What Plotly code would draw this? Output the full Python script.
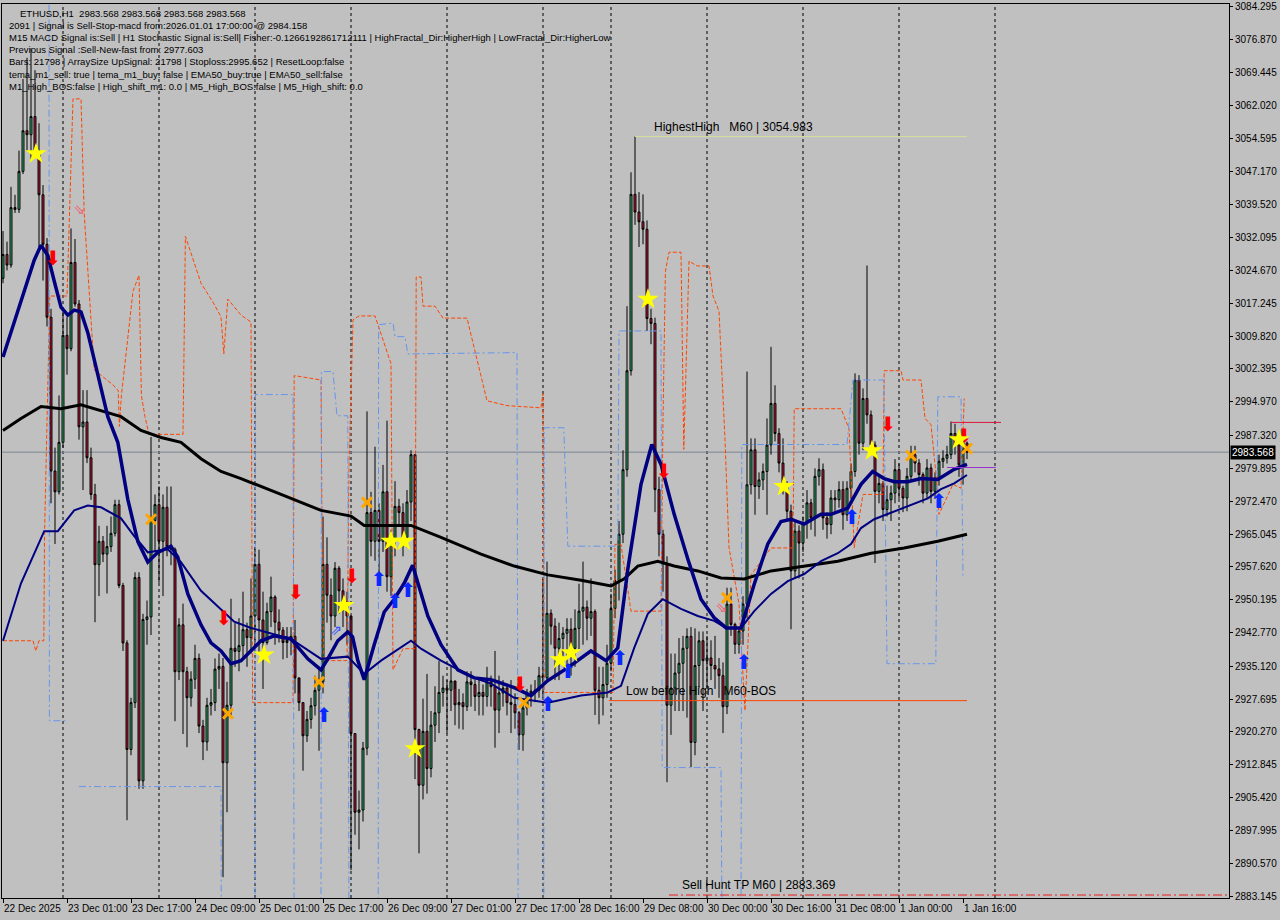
import plotly.graph_objects as go

# ETHUSD H1 candles, bar 0 = 22 Dec 09:00 (open of bar 0, then close/high/low per bar)
first_open = 3022.9
close = [
    3028.3, 3025.9, 3038.9, 3038.5, 3047.1, 3056.3, 3055.4, 3059.5, 3051.8, 3041.8,
    3030.6, 3014.1, 2979.3, 2974.6, 2985.8, 3010.0, 3007.0, 3026.5, 3017.1, 2989.3,
    2990.4, 2982.3, 2974.0, 2958.1, 2963.4, 2960.5, 2962.2, 2965.2, 2971.7, 2953.4,
    2940.4, 2916.3, 2926.9, 2955.2, 2909.2, 2945.7, 2946.3, 2968.1, 2971.7, 2963.4,
    2971.1, 2962.2, 2961.6, 2933.9, 2944.5, 2933.9, 2928.0, 2932.2, 2936.9, 2921.6,
    2918.0, 2926.3, 2926.9, 2934.5, 2935.1, 2913.3, 2926.3, 2939.2, 2938.5, 2939.8,
    2943.4, 2941.6, 2946.5, 2958.2, 2945.6, 2940.5, 2947.5, 2950.8, 2945.1, 2943.3,
    2940.5, 2941.0, 2941.9, 2932.5, 2926.9, 2919.4, 2923.1, 2926.2, 2929.7, 2931.6,
    2958.2, 2951.2, 2946.5, 2957.3, 2952.2, 2949.8, 2946.5, 2919.9, 2902.1, 2902.6,
    2916.6, 2969.9, 2963.4, 2970.4, 2963.4, 2974.6, 2955.4, 2963.4, 2971.3, 2969.9,
    2964.3, 2972.3, 2983.0, 2920.8, 2908.2, 2920.4, 2912.0, 2921.8, 2924.6, 2929.2,
    2930.2, 2929.7, 2931.8, 2926.4, 2926.9, 2926.0, 2931.6, 2931.0, 2928.3, 2929.2,
    2928.3, 2931.6, 2930.5, 2925.2, 2929.1, 2930.2, 2926.9, 2926.5, 2924.6, 2919.6,
    2925.7, 2929.1, 2929.5, 2929.7, 2933.0, 2932.5, 2947.1, 2944.2, 2939.2, 2941.4,
    2942.6, 2943.5, 2939.2, 2943.7, 2947.6, 2948.5, 2946.0, 2947.5, 2929.7, 2928.0,
    2931.0, 2935.8, 2948.2, 2954.5, 2965.0, 2979.6, 3002.0, 3041.9, 3037.9, 3035.7,
    3034.0, 3013.8, 3012.7, 2975.1, 2965.0, 2958.3, 2926.3, 2930.2, 2933.6, 2935.8,
    2939.2, 2941.9, 2917.9, 2935.3, 2940.9, 2936.4, 2937.0, 2935.3, 2934.5, 2933.0,
    2926.0, 2949.2, 2944.6, 2940.1, 2943.1, 2949.2, 2976.2, 2984.1, 2975.8, 2977.3,
    2979.2, 2985.2, 2994.6, 2987.8, 2981.1, 2975.8, 2970.2, 2956.7, 2965.7, 2963.0,
    2967.6, 2972.1, 2968.7, 2978.1, 2979.6, 2968.7, 2967.2, 2973.2, 2972.8, 2975.1,
    2969.4, 2975.4, 2979.2, 2999.9, 2985.6, 2995.7, 2992.0, 2985.2, 2974.7, 2976.5,
    2970.6, 2972.8, 2974.3, 2979.6, 2975.4, 2973.2, 2978.1, 2983.0, 2981.1, 2978.5,
    2974.3, 2980.0, 2974.7, 2977.7, 2981.5, 2982.2, 2983.0, 2987.8, 2985.2, 2980.7,
    2985.6, 2983.568,
]
high = [
    3033.6, 3031.2, 3043.6, 3041.8, 3051.8, 3068.0, 3072.8, 3075.0, 3070.0, 3058.0,
    3044.0, 3032.0, 3016.0, 2984.6, 2996.4, 3015.3, 3014.1, 3034.2, 3031.8, 3018.0,
    2997.6, 2997.6, 2984.6, 2976.4, 2966.9, 2964.6, 2966.9, 2969.0, 2972.8, 2972.8,
    2954.0, 2941.0, 2928.0, 2956.4, 2956.4, 2947.0, 2950.0, 2987.0, 2974.0, 2975.8,
    2974.0, 2975.8, 2975.8, 2962.0, 2946.0, 2949.3, 2935.0, 2934.0, 2940.0, 2938.0,
    2923.0, 2928.0, 2930.0, 2936.9, 2938.0, 2937.0, 2931.6, 2950.4, 2945.0, 2946.0,
    2952.0, 2945.0, 2955.0, 2962.0, 2961.5, 2952.0, 2949.5, 2955.4, 2951.2, 2948.0,
    2944.0, 2944.0, 2944.0, 2945.6, 2929.0, 2927.0, 2925.0, 2928.0, 2933.0, 2935.0,
    2969.0, 2964.3, 2955.0, 2958.7, 2957.8, 2955.0, 2952.0, 2945.6, 2920.0, 2907.0,
    2918.0, 2992.8, 2974.6, 2984.8, 2972.0, 2980.7, 2990.7, 2966.0, 2977.0, 2973.0,
    2972.0, 2975.0, 2984.0, 2983.0, 2921.0, 2927.8, 2933.4, 2925.0, 2930.6, 2936.3,
    2933.0, 2932.0, 2935.0, 2930.0, 2930.0, 2929.0, 2934.0, 2934.0, 2932.0, 2932.0,
    2931.0, 2935.0, 2933.0, 2938.6, 2933.0, 2932.0, 2931.0, 2932.0, 2929.0, 2925.0,
    2927.0, 2930.0, 2931.0, 2932.0, 2935.0, 2954.9, 2958.8, 2948.0, 2946.0, 2945.0,
    2944.0, 2946.0, 2946.0, 2948.0, 2953.8, 2958.8, 2950.0, 2955.0, 2948.0, 2935.0,
    2935.0, 2940.0, 2951.5, 2957.0, 2968.0, 2984.0, 3016.6, 3046.9, 3054.983, 3042.4,
    3041.9, 3036.0, 3016.0, 3014.0, 2978.0, 2966.0, 2960.0, 2938.0, 2938.0, 2941.5,
    2942.0, 2943.7, 2944.0, 2943.7, 2943.0, 2943.0, 2942.0, 2941.0, 2942.0, 2937.0,
    2936.0, 2952.9, 2952.9, 2945.0, 2944.0, 2951.0, 3001.8, 2986.7, 2986.7, 2979.0,
    2981.0, 2991.2, 3007.4, 2998.7, 2989.0, 2986.7, 2977.0, 2971.7, 2968.0, 2967.0,
    2969.0, 2975.0, 2973.0, 2979.9, 2982.2, 2981.0, 2970.0, 2975.0, 2975.0, 2977.0,
    2977.0, 2977.0, 2981.0, 3001.4, 3001.0, 2998.0, 3025.8, 2993.0, 2986.0, 2978.0,
    2977.0, 2976.0, 2976.0, 2982.0, 2981.0, 2976.0, 2980.0, 2985.0, 2985.0, 2982.0,
    2979.0, 2982.0, 2981.0, 2979.0, 2983.0, 2984.0, 2985.0, 2990.5, 2990.0, 2987.0,
    2988.0, 2986.0,
]
low = [
    3021.8, 3024.7, 3025.3, 3037.7, 3037.7, 3046.5, 3051.8, 3050.0, 3050.7, 3030.0,
    3022.4, 3012.0, 2972.0, 2962.8, 2974.0, 2984.6, 3001.1, 3006.4, 3016.5, 2986.4,
    2975.0, 2981.1, 2972.8, 2945.1, 2951.0, 2958.7, 2951.6, 2961.0, 2964.5, 2952.8,
    2938.6, 2900.3, 2915.0, 2925.7, 2907.4, 2907.4, 2940.0, 2942.2, 2961.0, 2954.0,
    2951.0, 2960.0, 2958.0, 2922.7, 2932.0, 2919.8, 2916.8, 2926.0, 2930.0, 2920.0,
    2913.9, 2916.0, 2924.0, 2925.0, 2930.0, 2887.4, 2902.1, 2924.0, 2935.0, 2934.0,
    2937.0, 2935.0, 2938.0, 2940.0, 2938.0, 2930.0, 2940.0, 2944.0, 2940.0, 2940.5,
    2936.7, 2937.0, 2937.6, 2929.0, 2925.0, 2911.5, 2918.0, 2921.0, 2924.0, 2916.0,
    2929.0, 2945.0, 2941.0, 2944.0, 2947.0, 2944.0, 2940.0, 2889.0, 2897.0, 2893.7,
    2900.0, 2915.0, 2960.0, 2959.0, 2955.0, 2961.0, 2952.0, 2951.0, 2960.0, 2967.0,
    2960.0, 2962.0, 2968.0, 2909.6, 2892.8, 2905.0, 2906.3, 2910.0, 2918.0, 2920.0,
    2926.0, 2919.9, 2925.0, 2921.8, 2921.0, 2920.8, 2925.0, 2926.0, 2925.0, 2924.0,
    2924.0, 2926.0, 2926.0, 2916.7, 2920.0, 2926.0, 2924.0, 2920.0, 2921.0, 2916.2,
    2916.0, 2924.0, 2926.0, 2927.0, 2928.0, 2928.0, 2932.0, 2940.0, 2932.0, 2932.0,
    2937.0, 2935.0, 2933.0, 2935.0, 2939.0, 2940.0, 2941.0, 2942.0, 2924.1, 2922.0,
    2924.0, 2928.0, 2934.0, 2946.0, 2950.0, 2963.0, 2978.0, 3000.9, 3035.0, 3030.0,
    3030.6, 3011.0, 3008.0, 2970.0, 2960.0, 2952.0, 2908.9, 2919.6, 2925.0, 2925.0,
    2925.0, 2923.5, 2912.3, 2915.0, 2930.2, 2925.0, 2930.0, 2932.0, 2930.0, 2928.0,
    2920.0, 2924.3, 2942.0, 2937.9, 2938.0, 2940.0, 2946.0, 2974.0, 2969.4, 2973.0,
    2975.0, 2969.4, 2983.0, 2986.0, 2979.0, 2974.0, 2968.0, 2943.5, 2955.0, 2955.0,
    2961.0, 2964.0, 2966.0, 2964.5, 2976.0, 2966.0, 2964.0, 2965.0, 2970.0, 2971.0,
    2966.0, 2968.0, 2973.0, 2978.0, 2983.0, 2984.0, 2990.0, 2983.0, 2958.5, 2972.0,
    2968.0, 2969.0, 2968.0, 2972.0, 2973.0, 2970.0, 2970.2, 2977.0, 2979.0, 2976.0,
    2972.0, 2973.0, 2972.0, 2973.0, 2976.0, 2980.0, 2981.0, 2982.0, 2983.0, 2978.0,
    2976.2, 2982.0,
]
bars = list(range(len(close)))
opens = [first_open] + close[:-1]

# moving averages (bar index, price)
ema_fast_x = [0, 4.5, 7.8, 9.5, 11.2, 12.8, 14.5, 16.2, 17.8, 19.5, 21.2, 23.7, 26.2, 28.7, 31.2,
              33.7, 36.2, 38.7, 42, 43.7, 46.2, 49.5, 52, 54.5, 57, 59.5, 64.5, 67.8, 72, 76.2,
              79.5, 81.2, 83.7, 86.2, 87.4, 88.7, 90.3, 92.8, 95.3, 97.8, 100.3, 102.4, 103.7,
              106.2, 109.5, 113.7, 117.8, 122, 127.8, 132, 136.2, 141.2, 147, 150.8, 153.7,
              156.2, 159.5, 162.2, 164.5, 167.8, 171.2, 174.5, 177.8, 180.8, 184.5, 187.8,
              191.2, 194.5, 197, 200.3, 204.5, 207, 211.2, 214.5, 217.4, 220.3, 222.8, 226.2,
              229.5, 233.7, 237.8, 241]
ema_fast_y = [3005.1, 3017.5, 3027.0, 3030.4, 3028.1, 3022.3, 3016.4, 3014.6, 3015.7, 3015.3,
              3010.6, 3001.1, 2991.6, 2985.8, 2972.9, 2963.4, 2958.7, 2960.9, 2962.3, 2959.8,
              2951.5, 2944.5, 2940.4, 2938.6, 2935.7, 2936.4, 2940.9, 2942.0, 2941.3, 2936.8,
              2934.3, 2936.8, 2940.9, 2942.9, 2941.8, 2936.4, 2932.1, 2940.0, 2947.4, 2950.3,
              2953.9, 2958.0, 2953.9, 2946.5, 2940.0, 2934.3, 2932.5, 2932.1, 2930.3, 2928.5,
              2931.9, 2934.8, 2938.6, 2936.4, 2939.3, 2957.1, 2976.3, 2985.3, 2980.8, 2969.5,
              2959.4, 2950.3, 2946.1, 2943.8, 2943.8, 2953.7, 2962.8, 2967.9, 2968.4, 2967.3,
              2969.5, 2969.5, 2970.9, 2976.3, 2979.2, 2977.6, 2976.9, 2976.9, 2977.6, 2977.4,
              2979.7, 2980.8]
ema_slow_x = [0, 4.5, 10.3, 13.7, 17.8, 21.2, 24.5, 29.5, 32.8, 36.2, 41.2, 44.5, 49.5, 54.5,
              57.8, 62, 72, 79.5, 86.2, 90.3, 94.5, 102, 104.5, 109.5, 117.8, 122, 127.8, 136.2,
              144.5, 151.2, 154.5, 157.8, 161.2, 164.9, 169.5, 173.7, 177.8, 180.8, 184.5,
              187.8, 192, 196.2, 200.3, 204.5, 208.7, 212, 214.5, 217.8, 222.8, 226.2, 231.2,
              234.5, 237.8, 241]
ema_slow_y = [2940.9, 2953.9, 2965.7, 2965.7, 2970.4, 2971.5, 2971.1, 2968.6, 2964.6, 2960.9,
              2961.6, 2958.7, 2952.2, 2948.1, 2945.2, 2943.8, 2941.3, 2936.8, 2937.3, 2933.4,
              2936.4, 2940.9, 2939.1, 2936.4, 2932.5, 2931.2, 2928.0, 2926.9, 2928.5, 2929.2,
              2930.7, 2939.3, 2947.0, 2950.3, 2948.1, 2946.5, 2945.4, 2943.8, 2943.8, 2947.6,
              2951.5, 2954.4, 2956.0, 2958.9, 2960.7, 2962.8, 2966.4, 2968.4, 2970.2, 2971.3,
              2973.1, 2975.2, 2976.5, 2978.4]
ma200_x = [0, 4.5, 9.5, 14.5, 19.5, 24.5, 29.5, 34.5, 39.5, 44.5, 49.5, 54.5, 59.5, 69.5, 79.5,
           87, 90.3, 102, 109.5, 119.5, 127.8, 136.2, 144.5, 152, 155.3, 158.7, 163.7, 167.8,
           173.7, 179.5, 185.3, 192, 200.3, 208.7, 217, 225.3, 233.7, 241]
ma200_y = [2988.5, 2991.2, 2993.9, 2993.4, 2994.3, 2993.0, 2991.6, 2988.5, 2986.9, 2985.8,
           2982.1, 2979.2, 2977.6, 2974.0, 2970.4, 2969.1, 2967.0, 2967.0, 2964.3, 2960.5,
           2957.8, 2955.8, 2954.6, 2953.3, 2954.9, 2957.8, 2958.9, 2957.8, 2956.7, 2955.1,
           2954.9, 2956.7, 2957.8, 2958.9, 2960.7, 2961.9, 2963.4, 2965.0]

# upper (orange) and lower (blue) bands
upper_x = [0, 7.5, 8.2, 9, 10.2, 10.4, 11.7, 16, 17.5, 19.5, 20.3, 22.8, 27.5, 28.8, 29.1, 29.6,
           32.5, 34, 34.6, 35.5, 36.5, 45, 45.6, 49.5, 52.5, 54.5, 55.2, 56.2, 59.5, 62, 62.4,
           72.5, 72.8, 79.5, 79.8, 80.2, 86, 86.5, 87.5, 89, 93, 97, 97.5, 100, 103, 103.3,
           104.5, 105, 108, 110, 116, 121, 126, 134.5, 135, 135.3, 152.5, 153, 154.5, 157,
           164.5, 165, 165.6, 166.5, 169.5, 170.2, 171.5, 173.5, 176.5, 177.5, 179, 180.5,
           181.5, 184, 185.5, 187, 192, 197.5, 197.8, 209.5, 211.5, 212.8, 215, 220, 220.3,
           224.5, 225, 229.5, 230.5, 232, 233.5, 234, 237.5, 239.5, 240.3]
upper_y = [2940.9, 2940.9, 2938.6, 2940.9, 2940.9, 2965.7, 3018.9, 3018.9, 3063.5, 3063.5,
           3037.6, 3002.2, 2998.8, 2997.5, 2989.4, 2996.4, 3020.0, 3023.6, 2996.4, 2991.6,
           2987.6, 2987.6, 3032.4, 3021.8, 3017.5, 3014.2, 3005.8, 3018.2, 3014.6, 3013.0,
           2926.9, 2926.9, 3000.9, 2999.9, 2960.5, 2936.4, 2936.4, 2980.1, 3013.5, 3014.4,
           3014.4, 3003.6, 2934.3, 2939.1, 2939.1, 3023.2, 3023.2, 3016.6, 3016.6, 3013.9,
           3013.9, 2995.2, 2994.1, 2993.6, 2996.8, 2929.2, 2929.2, 2962.7, 2962.7, 2947.6,
           2947.6, 2990.9, 3024.5, 3028.8, 3028.8, 2984.2, 3026.8, 3025.7, 3025.7, 3018.9,
           3015.5, 2986.4, 2962.0, 2949.2, 2925.1, 2955.8, 2961.9, 2961.9, 2993.4, 2993.4,
           2988.9, 2961.9, 2974.0, 2974.0, 3002.0, 3002.0, 2999.9, 2999.9, 2991.2, 2989.8,
           2976.3, 2969.5, 2976.3, 2975.4, 2995.7]
lower_x = [11.5, 11.6, 16, None, 19, 54.5, 54.6, None, 63, 63.1, 72.5, 72.8, None, 79.5, 79.6,
           82.5, 83.5, 86.2, 86.5, None, 93.8, 93.9, 97.5, 98, 100.5, 101.2, 128.5, 128.8, None,
           135.2, 135.3, 140.2, 141.2, 153.7, 154, 164.5, 164.8, 179.5, 179.8, None, 184.5,
           184.7, 211, 212.5, 220.2, 221, 233.2, 233.7, 239.5, 240]
lower_y = [3095, 2922.8, 2922.8, None, 2907.9, 2907.9, 2870, None, 2870, 2996.6, 2996.6, 2870,
           None, 2870, 3001.8, 3001.8, 2991.8, 2991.8, 2870, None, 2870, 3012.4, 3012.8, 3009.7,
           3009.7, 3005.8, 3006.1, 2870, None, 2870, 2989.1, 2989.1, 2962.3, 2962.3, 3011.0,
           3011.0, 2912.2, 2912.2, 2870, None, 2870, 2985.3, 2985.3, 2999.9, 2999.9, 2935.7,
           2935.7, 2996.1, 2996.1, 2955.1]

# signal markers (bar index, price)
star_x = [8.25, 65.25, 85.25, 97, 100.25, 103, 139.25, 142, 161.25, 195.25, 217.25, 239]
star_y = [3051.1, 2937.7, 2948.9, 2963.4, 2963.4, 2916.5, 2936.6, 2938.2, 3018.2, 2975.8,
          2983.9, 2986.4]
cross_x = [37, 56.25, 79, 91, 130.25, 181, 227, 241]
cross_y = [2968.4, 2924.4, 2931.6, 2972.2, 2926.9, 2950.6, 2982.8, 2984.4]
sell_x = [12.5, 55.25, 73.25, 87.25, 129.25, 165.25, 221.25, 240.25]
sell_y = [3027.0, 2945.6, 2951.5, 2955.1, 2930.7, 2978.8, 2989.4, 2986.7]
buy_x = [80.25, 94, 98, 101.25, 136.25, 141.25, 154.25, 185.25, 212.25, 234]
buy_y = [2923.7, 2954.4, 2949.4, 2951.9, 2926.2, 2933.7, 2936.6, 2935.7, 2968.4, 2972.0]

# levels
current_price = 2983.568
highest_high = 3054.983
low_before_high = 2927.35
sell_hunt_tp = 2883.369
red_level = 2990.3
purple_level = 2980.1

price_ticks = [3084.295, 3076.870, 3069.445, 3062.020, 3054.595, 3047.170, 3039.520, 3032.095,
               3024.670, 3017.245, 3009.820, 3002.395, 2994.970, 2987.320, 2979.895, 2972.470,
               2965.045, 2957.620, 2950.195, 2942.770, 2935.120, 2927.695, 2920.270, 2912.845,
               2905.420, 2897.995, 2890.570, 2883.145]
time_ticks = [0, 16, 32, 48, 64, 80, 96, 112, 128, 144, 160, 176, 192, 208, 224, 240]
time_labels = ["22 Dec 2025", "23 Dec 01:00", "23 Dec 17:00", "24 Dec 09:00", "25 Dec 01:00",
               "25 Dec 17:00", "26 Dec 09:00", "27 Dec 01:00", "27 Dec 17:00", "28 Dec 16:00",
               "29 Dec 08:00", "30 Dec 00:00", "30 Dec 16:00", "31 Dec 08:00", "1 Jan 00:00",
               "1 Jan 16:00"]
day_breaks = [15, 39, 63, 87, 111, 135, 152, 176, 200, 224, 248]

info_lines = [
    "ETHUSD,H1  2983.568 2983.568 2983.568 2983.568",
    "2091 | Signal is Sell-Stop-macd from:2026.01.01 17:00:00 @ 2984.158",
    "M15 MACD Signal is:Sell | H1 Stochastic Signal is:Sell| Fisher:-0.1266192861712111 | HighFractal_Dir:HigherHigh | LowFractal_Dir:HigherLow",
    "Previous Signal :Sell-New-fast from: 2977.603",
    "Bars: 21798 | ArraySize UpSignal: 21798 | Stoploss:2995.652 | ResetLoop:false",
    "tema_m1_sell: true | tema_m1_buy: false | EMA50_buy:true | EMA50_sell:false",
    "M1_High_BOS:false | High_shift_m1: 0.0 | M5_High_BOS:false | M5_High_shift: 0.0",
]

FONT = "Liberation Sans"
BG = "#C0C0C0"
x_end = 306.5

fig = go.Figure()

for b in day_breaks:
    fig.add_vline(x=b, line=dict(color="black", width=1, dash="3px,3px"), layer="below")

fig.add_hline(y=current_price, line=dict(color="#7a8494", width=1), layer="below")

fig.add_trace(go.Scatter(x=upper_x, y=upper_y, mode="lines",
                         line=dict(color="#FF4500", width=1, dash="4px,2px")))
fig.add_trace(go.Scatter(x=lower_x, y=lower_y, mode="lines", connectgaps=False,
                         line=dict(color="#6495ED", width=1, dash="7px,3px,2px,3px")))

fig.add_trace(go.Candlestick(
    x=bars, open=opens, high=high, low=low, close=close,
    increasing=dict(line=dict(color="black", width=1), fillcolor="#3CB371"),
    decreasing=dict(line=dict(color="black", width=1), fillcolor="#C41E3A"),
    whiskerwidth=0,
))

fig.add_trace(go.Scatter(x=ma200_x, y=ma200_y, mode="lines", line=dict(color="black", width=3)))
fig.add_trace(go.Scatter(x=ema_slow_x, y=ema_slow_y, mode="lines", line=dict(color="#000080", width=2)))
fig.add_trace(go.Scatter(x=ema_fast_x, y=ema_fast_y, mode="lines", line=dict(color="#000080", width=3.5)))

# level lines
fig.add_trace(go.Scatter(x=[158, 241], y=[highest_high] * 2, mode="lines",
                         line=dict(color="#d6dc9a", width=1)))
fig.add_trace(go.Scatter(x=[151.5, 241], y=[low_before_high] * 2, mode="lines",
                         line=dict(color="#FF4500", width=1)))
fig.add_trace(go.Scatter(x=[166.5, x_end], y=[sell_hunt_tp] * 2, mode="lines",
                         line=dict(color="#E8201E", width=1, dash="9px,3px,2px,3px")))
fig.add_trace(go.Scatter(x=[237, 249.5], y=[red_level] * 2, mode="lines",
                         line=dict(color="#DC143C", width=1)))
fig.add_trace(go.Scatter(x=[236, 248.2], y=[purple_level] * 2, mode="lines",
                         line=dict(color="#9932CC", width=1)))

# markers
fig.add_trace(go.Scatter(x=sell_x, y=sell_y, mode="text", text=["⬇"] * len(sell_x),
                         textfont=dict(color="#FF0000", size=20, family="DejaVu Sans")))
fig.add_trace(go.Scatter(x=buy_x, y=buy_y, mode="text", text=["⬆"] * len(buy_x),
                         textfont=dict(color="#0A28FF", size=20, family="DejaVu Sans")))
fig.add_trace(go.Scatter(x=cross_x, y=cross_y, mode="markers",
                         marker=dict(symbol="x-thin", size=10, color="#FFA500",
                                     line=dict(width=3, color="#FFA500"))))
fig.add_trace(go.Scatter(x=star_x, y=star_y, mode="markers",
                         marker=dict(symbol="star", size=16, color="#FFFF00", line=dict(width=0))))
fig.add_trace(go.Scatter(x=[19, 179.5], y=[3038.3, 2948.3], mode="text", text=["⇘", "⇘"],
                         textfont=dict(color="#F06070", size=14, family="DejaVu Sans")))
fig.add_trace(go.Scatter(x=[83.25], y=[2943.1], mode="text", text=["⇗"],
                         textfont=dict(color="#3050FF", size=14, family="DejaVu Sans")))

# level labels
fig.add_annotation(x=162.25, y=highest_high, text="HighestHigh   M60 | 3054.983", showarrow=False,
                   xanchor="left", yanchor="bottom", yshift=1, font=dict(size=12, color="black"))
fig.add_annotation(x=155.25, y=low_before_high, text="Low before High   M60-BOS", showarrow=False,
                   xanchor="left", yanchor="bottom", yshift=1, font=dict(size=12, color="black"))
fig.add_annotation(x=169.25, y=sell_hunt_tp, text="Sell Hunt TP M60 | 2883.369", showarrow=False,
                   xanchor="left", yanchor="bottom", yshift=1, font=dict(size=12, color="black"))

# current price tag on the axis
fig.add_annotation(x=1, xref="paper", y=current_price, text="2983.568", showarrow=False,
                   xanchor="left", xshift=1, bgcolor="black", borderpad=1,
                   font=dict(size=10, color="white", family=FONT))

# time labels, left aligned at their tick like the terminal
for pos, lab in zip(time_ticks, time_labels):
    fig.add_annotation(x=pos, y=0, yref="paper", text=lab, showarrow=False,
                       xanchor="left", yanchor="top", yshift=-3, xshift=-1,
                       font=dict(size=10, color="black", family=FONT))

# info block in the top-left corner
for k, line in enumerate(info_lines):
    fig.add_annotation(x=0, y=1, xref="paper", yref="paper", text=line, showarrow=False,
                       xanchor="left", yanchor="middle", xshift=16 if k == 0 else 5,
                       yshift=-(9 + 12.2 * k), font=dict(size=9.5, color="black", family=FONT))

fig.update_layout(
    width=1280,
    height=920,
    margin=dict(l=2, r=51, t=1, b=22),
    paper_bgcolor=BG,
    plot_bgcolor=BG,
    showlegend=False,
    font=dict(family=FONT, size=10, color="black"),
)
fig.update_xaxes(
    range=[-0.25, x_end], rangeslider_visible=False, showgrid=False, zeroline=False,
    tickvals=time_ticks, ticktext=[""] * len(time_ticks), ticks="outside", ticklen=4,
    tickcolor="black", showline=True, linecolor="black", linewidth=1, mirror=True,
)
fig.update_yaxes(
    range=[2882.695, 3084.972], side="right", showgrid=False, zeroline=False,
    tickvals=price_ticks, tickformat=".3f", ticks="outside", ticklen=3, tickcolor="black",
    showline=True, linecolor="black", linewidth=1, mirror=True, ticklabeloverflow="allow",
    tickfont=dict(size=10, family=FONT, color="black"),
)

# the page body has a default 8px margin; drop it so the chart sits at the window corner
fig.write_html("out.html", config={"displayModeBar": False},
               post_script="document.body.style.margin='0';")
